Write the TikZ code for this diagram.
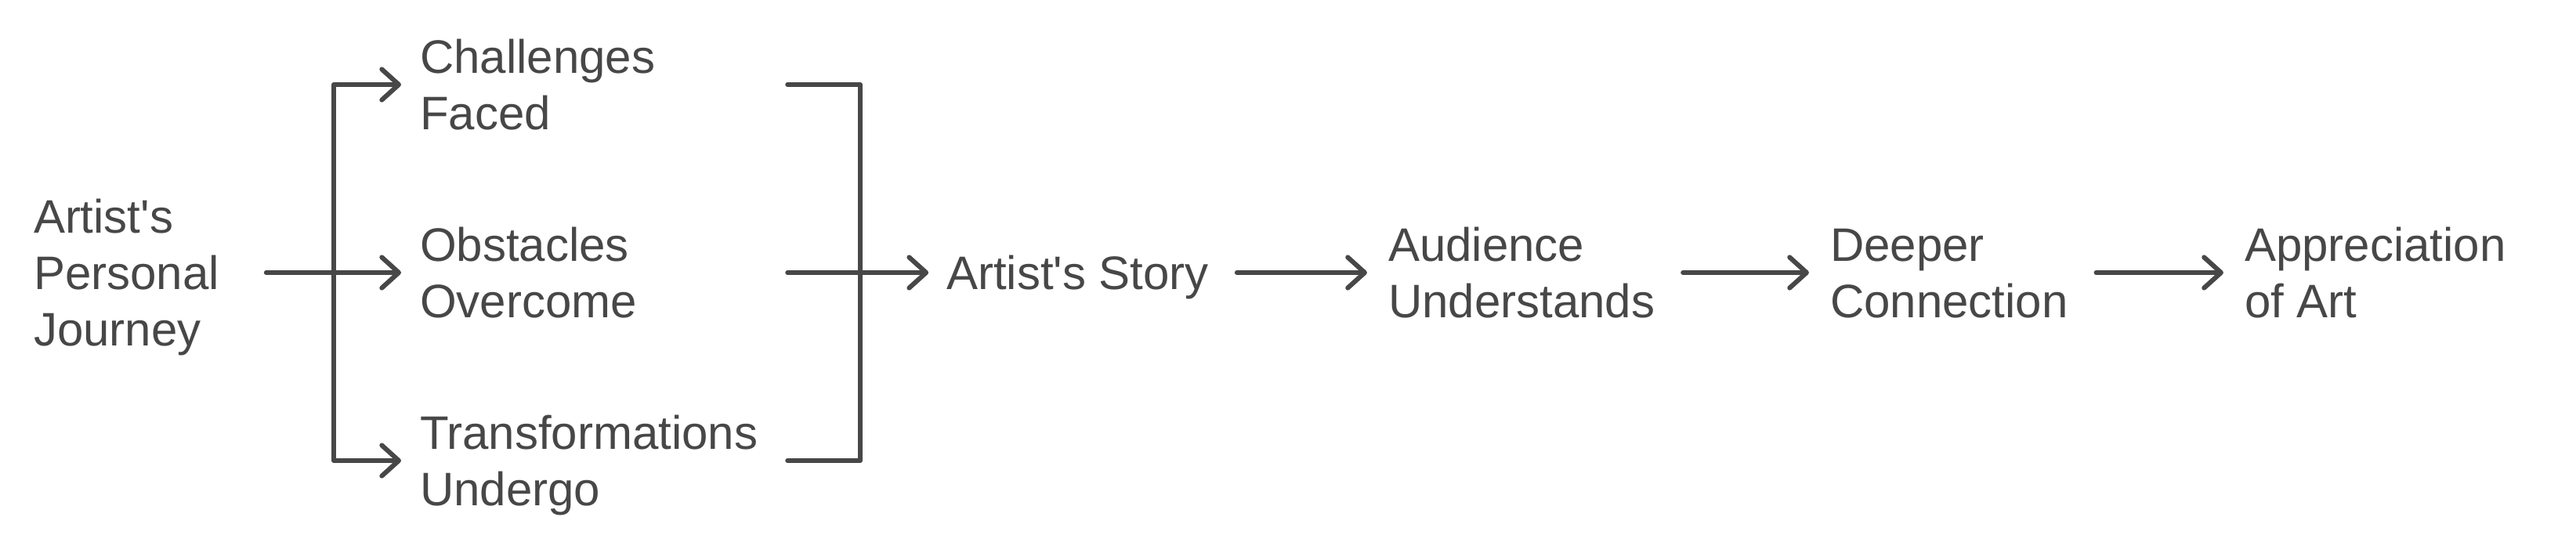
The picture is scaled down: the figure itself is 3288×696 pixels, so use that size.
\documentclass[tikz,border=0pt]{standalone}
\usepackage{fontspec}
\setmainfont{Liberation Sans}
\usetikzlibrary{arrows.meta}
\definecolor{ink}{HTML}{474747}
\begin{document}
\begin{tikzpicture}[x=0.24pt,y=-0.24pt,
  lbl/.style={anchor=base west, inner sep=0pt, outer sep=0pt, align=left, text=ink,
              font=\fontsize{14.4pt}{17.28pt}\selectfont},
  ln/.style={draw=ink, line width=1.44pt, line cap=round, line join=round},
  arr/.style={ln, -{Straight Barb[length=5.2pt,width=9.4pt,line cap=round,line join=round]}}]
\useasboundingbox (0,0) rectangle (3288,696);
\coordinate (top) at (0,108);
\coordinate (mid) at (0,348);
\coordinate (bot) at (0,588);
\coordinate (split) at (426,348);
\coordinate (merge) at (1098,348);

\node[lbl] (journey) at (43,441) {Artist\textquotesingle s\\Personal\\Journey};
\node[lbl] (chal) at (536,165) {Challenges\\Faced};
\node[lbl] (obst) at (536,405) {Obstacles\\Overcome};
\node[lbl] (trans) at (536,645) {Transformations\\Undergo};
\node[lbl] (story) at (1208,369) {Artist\textquotesingle s Story};
\node[lbl] (aud) at (1772,405) {Audience\\Understands};
\node[lbl] (deep) at (2336,405) {Deeper\\Connection};
\node[lbl] (appr) at (2865,405) {Appreciation\\of Art};

\coordinate (bx) at ([xshift=9.12pt]trans.east);

\draw[ln] ([xshift=14.4pt]journey.east |- mid) -- (split);
\draw[arr, shorten >=5.76pt] (split) |- (chal.west |- top);
\draw[arr, shorten >=5.76pt] (split) -- (obst.west |- mid);
\draw[arr, shorten >=5.76pt] (split) |- (trans.west |- bot);

\draw[ln] (bx |- top) -| (merge);
\draw[ln] (bx |- bot) -| (merge);
\draw[ln] (bx |- mid) -- (merge);
\draw[arr, shorten >=5.5pt] (merge) -- (story.west |- mid);

\draw[arr, shorten <=8.64pt, shorten >=6.5pt] (story.east |- mid) -- (aud.west |- mid);
\draw[arr, shorten <=8.64pt, shorten >=6.5pt] (aud.east |- mid) -- (deep.west |- mid);
\draw[arr, shorten <=8.64pt, shorten >=6.5pt] (deep.east |- mid) -- (appr.west |- mid);
\end{tikzpicture}
\end{document}
